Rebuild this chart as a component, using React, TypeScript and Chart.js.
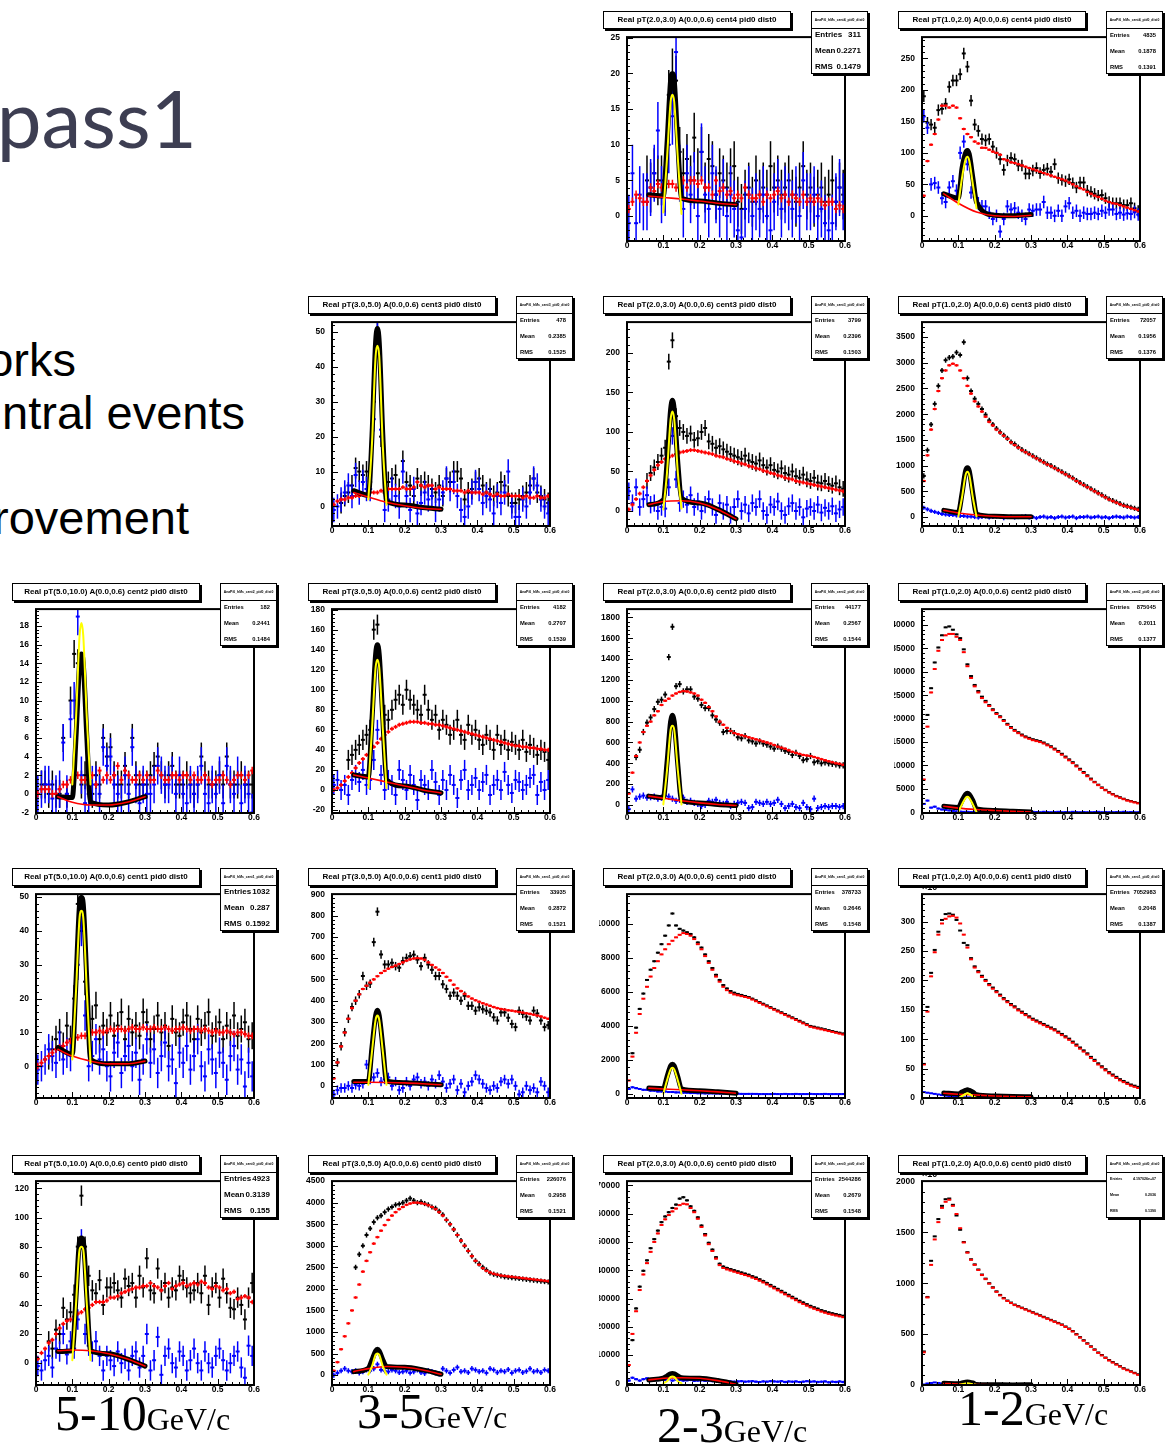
import React, { useEffect, useRef } from "react";
import { Chart, registerables } from "chart.js";

Chart.register(...registerables);

// ---------------- shared axis data ----------------
const X_BINS: number[] = Array.from({ length: 60 }, (_, i) => Math.round((0.005 + 0.01 * i) * 1000) / 1000);
const X_TICKS = [0, 0.1, 0.2, 0.3, 0.4, 0.5, 0.6];
const FIT_X_BG = [0.06, 0.1, 0.15, 0.2, 0.25, 0.3];
const FIT_X_TOT = [0.06, 0.1, 0.11, 0.12, 0.125, 0.13, 0.14, 0.15, 0.2, 0.25, 0.3];
const FIT_X_PEAK = [0.1, 0.11, 0.12, 0.125, 0.13, 0.14, 0.15];

// ---------------- P01: pT(2,3) cent4 ----------------
const P01_BLACK = [null,null,null,null,null,5,4,6,5,5,4,17,20,19,9,6,8,5,11,6,9,4,8,7,3,6,5,4,6,7,2,1,3,4,2,5,3,4,3,7,4,5,3,4,5,3,2,4,7,3,4,2,3,4,2,3,5,2,4,3];
const P01_BLUE = [-1,6,-1,3,2,2,4,6,12,3,4,10,14,23,6,1,6,3,5,0,9,3,1,6,3,1,4,0,3,1,-2,-3,1,3,0,2,1,3,0,-2,2,4,1,3,2,1,3,0,5,2,2,3,0,1,-1,-2,-1,2,4,2];
const P01_RED = [1,2,3,2.5,2,2,4,3.5,4.5,4,5,4.5,4.5,4,5.5,5,4,5,5,4.5,5,4,4,3,5,3.5,4,3,3.5,2.5,3,2.5,4,3,2.5,2.5,3,2,3,2.5,3,3.5,2.5,3,2,3,2.5,2,3,2,2.5,2,2.5,2,1.5,2,2,1,1.5,1];
const P01_BG = [2.8,2.6,2.4,2.1,1.8,1.6];
const P01_TOT = [3,2.8,10,19,20,19,10,2.5,2.1,1.8,1.6];
const P01_PEAK = [0.5,8,16,17,16,8,0.3];
const P01_YTICKS = [0,5,10,15,20,25];

// ---------------- P02: pT(1,2) cent4 ----------------
const P02_BLACK = [190,148,145,140,168,170,178,205,215,215,225,258,237,183,145,135,122,120,122,110,100,90,73,88,92,90,80,80,67,67,72,76,68,73,75,70,82,60,57,55,58,52,45,53,53,40,38,35,32,33,28,22,20,20,20,17,17,20,12,8];
const P02_BLUE = [158,140,50,52,45,28,22,45,55,40,100,118,82,37,30,20,15,15,5,-5,0,-25,-5,15,10,12,5,0,-5,10,8,10,10,22,5,5,0,8,0,15,20,5,8,0,5,3,3,5,3,8,5,10,10,3,5,2,4,3,6,2];
const P02_RED = [32,87,113,130,153,175,175,172,175,172,155,138,130,125,118,115,108,108,105,102,100,97,90,88,85,84,82,80,78,76,74,72,70,68,66,64,62,60,58,56,53,50,47,44,42,38,35,32,30,27,24,22,20,19,17,15,13,11,9,7];
const P02_BG = [35,20,6,0,-1,1];
const P02_TOT = [35,28,75,100,104,98,60,22,1,0,2];
const P02_PEAK = [18,60,90,94,88,50,12];
const P02_YTICKS = [0,50,100,150,200,250];

// ---------------- P03: pT(3,5) cent3 ----------------
const P03_BLACK = [null,null,1,3,4,6,11,10,9,10,7,30,50,20,4,7,8,9,5,13,7,6,3,8,6,7,6,5,4,6,3,8,7,10,10,8,2,4,5,7,8,6,4,5,3,4,7,6,3,1,1,2,3,4,6,8,4,3,2,1];
const P03_BLUE = [-1,0,2,4,6,3,9,4,7,5,5,25,50,22,-1,2,5,3,0,10,3,-1,5,-2,1,4,2,3,-1,2,4,8,5,7,3,-1,-3,0,4,7,5,1,3,2,-2,3,1,4,10,0,-3,-3,2,0,4,8,6,2,0,-2];
const P03_RED = [0.5,1.5,2,2,2.5,2.5,3,3,3.5,3.5,4,4,4,4.5,4,5,5,5,5,5.5,5,5,5.5,7,6,5.5,6,6,5,5.5,5,5,5,4.5,4.5,4.5,4,4.5,4,4,4,3.5,4,3.5,3,3.5,3,3,3.5,3,3,3,2.5,3,2.5,2.5,3,2.5,2.5,3];
const P03_BG = [4,2.7,1.2,0.2,-0.5,-0.8];
const P03_TOT = [4.5,3.2,20,47,51,47,20,1.5,0.4,-0.3,-0.8];
const P03_PEAK = [2,18,43,46,43,17,0.5];
const P03_YTICKS = [0,10,20,30,40,50];

// ---------------- P04: pT(2,3) cent3 ----------------
const P04_BLACK = [null,null,null,null,null,38,48,55,62,70,80,189,216,120,105,100,95,98,90,92,100,105,88,85,80,82,78,75,72,70,68,66,70,64,62,60,64,58,55,58,52,50,54,48,46,50,44,42,46,40,38,42,36,35,38,34,32,35,30,28];
const P04_BLUE = [25,10,30,5,15,20,8,10,0,5,3,30,95,40,10,15,8,20,5,12,0,8,15,5,-5,10,0,8,-5,5,15,0,8,-3,10,5,15,0,-5,8,5,12,0,-5,6,10,0,5,-8,3,5,0,8,-2,4,0,6,-3,2,5];
const P04_RED = [2,8,15,22,30,38,45,52,58,62,66,68,70,72,74,75,76,77,77,76,75,74,73,72,70,69,68,66,65,63,62,60,59,57,56,54,53,51,50,48,47,45,44,42,41,40,38,37,36,35,34,33,32,31,30,29,28,27,26,25];
const P04_BG = [8,12,13,10,2,-10];
const P04_TOT = [8,14,60,128,140,128,60,16,10,2,-10];
const P04_PEAK = [2,48,116,126,116,48,3];
const P04_YTICKS = [0,50,100,150,200];

// ---------------- P05: pT(1,2) cent3 ----------------
const P05_BLACK = [800,1300,1800,2200,2550,2850,3050,3100,3120,3200,3150,3400,2700,2450,2300,2200,2100,1990,1880,1800,1720,1650,1590,1530,1460,1420,1360,1310,1270,1230,1190,1150,1110,1070,1030,1000,960,920,880,840,800,760,710,670,630,590,550,510,470,430,390,350,320,290,260,230,210,190,170,150];
const P05_BLUE = [180,150,120,100,80,60,50,40,40,30,20,20,10,10,0,-10,0,10,-10,0,10,0,-20,0,10,-10,0,10,20,-10,0,-20,0,10,-10,0,-20,0,10,-10,0,10,-20,0,0,10,-10,0,10,-10,0,-20,0,10,0,-10,10,0,-10,0];
const P05_RED = [700,1200,1700,2100,2450,2700,2850,2950,2980,2950,2850,2700,2550,2400,2250,2150,2050,1950,1850,1780,1700,1640,1580,1520,1450,1400,1350,1300,1260,1220,1180,1140,1100,1060,1020,990,950,910,870,830,790,750,700,660,620,580,540,500,460,420,380,340,310,280,250,220,200,180,160,140];
const P05_BG = [130,80,40,15,5,5];
const P05_TOT = [130,90,450,900,960,900,450,60,15,5,5];
const P05_PEAK = [10,380,820,880,820,380,10];
const P05_YTICKS = [0,500,1000,1500,2000,2500,3000,3500];

// ---------------- P06: pT(5,10) cent2 ----------------
const P06_BLACK = [null,1,1,0,1,0,0,6,0,10,15,14,1,2,1,0,2,1,6,4,5,2,1,1,3,1,6,2,1,1,1,2,3,4,2,1,2,3,1,1,1,2,1,0,1,4,2,1,1,1,2,1,4,1,1,1,2,1,1,1];
const P06_BLUE = [0,0.5,1,1,-0.5,0,0.5,5.5,0,8,10,19,2,-1,0,1,1,0,5,3,4,1,0,-1,2,0,5,1,-1,1,0,0,1,3,2,1,1,2,0,2,0,-1,1,0,1,3,0,-1,1,0,2,-1,3,1,0,2,-1,1,0,-2];
const P06_RED = [0,0.5,0.5,0.5,0,0,0.5,1,1,1.5,1.5,2,1.5,1.5,1,2,1,2.5,1.5,2,1.5,2,3,1.5,2.5,2,1.5,1.5,2,1.5,2,1.5,1.5,2.5,2,1.5,1.5,2,2,1.5,2,2,1.5,2,1.5,1.5,2,1.5,1,1.5,1.5,2,1.5,1,1.5,2,2,1.5,2,2.5];
const P06_BG = [-0.3,-0.9,-1.2,-1.2,-0.9,-0.3];
const P06_TOT = [-0.3,-0.4,6,14,15,14,6,-0.9,-1.2,-0.9,-0.3];
const P06_PEAK = [1,8,17,18.3,17,8,1];
const P06_YTICKS = [-2,0,2,4,6,8,10,12,14,16,18];

// ---------------- P07: pT(3,5) cent2 ----------------
const P07_BLACK = [null,null,null,null,30,35,40,45,50,55,60,160,165,110,75,70,80,90,95,85,100,90,85,80,75,95,80,70,75,60,70,65,55,60,70,55,50,65,55,60,50,45,55,50,40,55,45,50,40,48,45,40,50,38,45,42,35,40,38,30];
const P07_BLUE = [5,10,0,5,-5,10,15,8,20,5,10,30,60,15,0,10,5,-5,20,10,0,15,5,-10,10,5,0,20,8,-5,10,0,15,5,-8,10,20,0,5,12,0,8,15,-5,5,10,0,18,5,-3,10,8,0,5,12,15,-5,8,0,10];
const P07_RED = [0,2,5,9,13,17,22,27,31,35,39,43,47,51,55,58,61,63,65,66,67,68,68,68,67,67,66,66,65,65,64,63,62,61,60,59,58,57,56,55,54,53,52,51,50,49,48,47,46,45,44,44,43,43,42,42,41,41,40,40];
const P07_BG = [15,12,8,4,0,-3];
const P07_TOT = [15,13,70,135,145,135,70,10,4,0,-3];
const P07_PEAK = [2,60,122,130,122,60,2];
const P07_YTICKS = [-20,0,20,40,60,80,100,120,140,160,180];

// ---------------- P08: pT(2,3) cent2 ----------------
const P08_BLACK = [null,null,460,530,700,790,840,920,990,1010,1060,1420,1710,1140,1160,1090,1110,1110,1040,1020,960,930,930,860,820,790,700,710,710,690,650,640,660,620,610,590,610,590,580,560,540,560,540,520,510,480,500,470,430,440,470,410,420,400,410,400,395,390,380,380];
const P08_BLUE = [-40,150,60,80,90,70,75,80,60,70,90,80,60,40,50,70,30,40,20,10,-10,0,40,30,50,20,10,30,-10,10,20,30,20,-30,-20,30,20,10,30,10,20,50,10,-30,-10,10,-20,-30,20,-20,-40,60,-30,-20,-10,-20,-10,-10,-20,-10];
const P08_RED = [110,310,470,600,700,760,800,860,900,960,1000,1020,1050,1070,1085,1093,1090,1080,1070,1050,1010,980,940,900,850,800,770,740,710,690,680,670,660,650,640,630,620,610,600,590,575,560,550,540,525,510,500,490,480,475,470,460,450,440,430,420,410,400,395,385];
const P08_BG = [85,65,40,20,5,-5];
const P08_TOT = [85,70,400,800,860,800,380,45,20,5,-5];
const P08_PEAK = [5,330,720,760,720,330,5];
const P08_YTICKS = [0,200,400,600,800,1000,1200,1400,1600,1800];

// ---------------- P09: pT(1,2) cent2 ----------------
const P09_BLACK = [null,20800,26500,32000,35200,37800,39500,39700,39000,38000,37200,34800,31600,29100,27200,25900,24700,23800,22900,22000,21200,20500,19700,18900,18200,17600,17100,16600,16200,15900,15600,15400,15200,14900,14500,14100,13600,13100,12500,11900,11300,10700,10000,9300,8600,7900,7200,6500,5900,5300,4800,4300,3900,3500,3200,2900,2600,2400,2200,2000];
const P09_BLUE = [1800,2500,1000,1200,800,600,500,400,300,200,150,100,100,50,50,0,50,0,0,50,0,0,50,0,0,0,50,0,0,0,100,50,0,100,50,0,50,100,0,50,0,100,50,0,50,0,0,50,100,0,50,0,0,50,0,100,0,50,0,0];
const P09_RED = [7000,18300,25600,30600,34500,36800,37800,38100,38100,37500,36800,34200,31200,28700,26900,25600,24400,23500,22700,21800,21000,20300,19500,18700,18000,17400,16900,16400,16000,15700,15400,15200,15000,14700,14300,13900,13400,12900,12300,11700,11100,10500,9800,9100,8400,7700,7000,6400,5800,5200,4700,4200,3800,3400,3100,2800,2500,2300,2100,1900];
const P09_BG = [1300,900,600,400,200,50];
const P09_TOT = [1300,1000,2500,3800,4050,3800,2500,700,400,200,50];
const P09_PEAK = [50,1700,3100,3300,3100,1700,50];
const P09_YTICKS = [0,5000,10000,15000,20000,25000,30000,35000,40000];

// ---------------- P10: pT(5,10) cent1 ----------------
const P10_BLACK = [null,null,null,3,5,8,10,6,12,8,20,48,50,25,10,14,18,8,12,10,15,9,12,16,8,14,10,12,9,16,13,8,11,15,10,12,6,14,10,9,13,15,11,8,14,10,12,16,9,11,13,8,12,10,15,9,11,13,8,9];
const P10_BLUE = [-1,0,2,5,3,1,6,2,4,3,10,30,40,15,0,3,8,2,5,0,-3,4,7,-2,3,6,0,4,-4,2,8,1,5,-2,3,7,0,2,-5,4,1,6,-1,3,8,0,-3,5,2,-2,4,1,-4,3,6,-1,2,-6,1,-3];
const P10_RED = [0,1,2,3,4,5,5.5,6,7,7.5,8,8.5,9,9,9.5,10,10,10.5,10,10.5,11,10.5,11,11,10.5,11,11.5,11,11,11.5,11,11,11.5,11,11,11.5,11,10.5,11,11,11.5,11,10.5,11,11,10.5,11,10.5,10,10.5,10,10,10.5,10,9.5,10,10,9.5,9,9];
const P10_BG = [5,3,1.5,0.7,0.7,1.5];
const P10_TOT = [5.5,3.5,25,48,50,48,25,2,0.7,0.7,1.5];
const P10_PEAK = [2,22,44,46,44,22,1];
const P10_YTICKS = [0,10,20,30,40,50];

// ---------------- P11: pT(3,5) cent1 ----------------
const P11_BLACK = [null,110,186,252,315,370,400,430,516,470,480,675,818,617,570,570,578,562,555,586,601,609,616,593,562,601,570,545,516,516,477,455,423,438,423,400,423,376,376,353,369,360,353,345,322,307,345,345,320,291,276,353,338,325,307,353,340,307,276,285];
const P11_BLUE = [-40,-20,-10,-10,0,-10,5,0,10,100,30,40,60,20,30,40,0,20,-20,-10,20,0,30,40,10,20,0,30,10,50,20,-10,10,30,-20,10,-30,0,20,50,30,10,-10,-20,0,-10,20,30,10,30,0,-40,-30,0,-20,-10,-30,20,0,-30];
const P11_RED = [35,110,185,250,315,365,400,430,455,470,485,500,515,530,540,550,558,565,572,580,588,594,598,600,598,592,580,568,556,545,530,512,495,475,458,445,432,420,410,402,395,388,382,376,370,365,361,358,355,353,350,347,344,341,338,334,330,326,320,315];
const P11_BG = [17,17,16,14,10,5];
const P11_TOT = [20,20,180,330,355,330,180,22,15,10,5];
const P11_PEAK = [5,160,310,330,310,160,5];
const P11_YTICKS = [0,100,200,300,400,500,600,700,800,900];

// ---------------- P12: pT(2,3) cent1 ----------------
const P12_BLACK = [null,2400,3900,5000,5900,6700,7300,7800,8300,8800,9300,9900,10600,9900,9700,9600,9500,9400,9200,8900,8600,8200,7800,7400,7000,6700,6400,6200,6050,5950,5880,5820,5760,5700,5600,5500,5400,5300,5200,5100,5000,4900,4800,4700,4600,4500,4400,4300,4200,4100,4000,3950,3900,3850,3800,3750,3700,3650,3600,3550];
const P12_BLUE = [300,400,350,300,250,250,200,200,150,150,150,120,120,100,100,80,80,60,60,50,50,40,40,40,30,30,30,20,20,20,20,10,10,10,10,10,0,0,0,0,10,0,0,10,0,0,10,0,0,0,10,0,0,0,10,0,0,0,0,0];
const P12_RED = [800,2200,3600,4700,5600,6300,6900,7400,7800,8200,8500,8800,9000,9200,9350,9450,9400,9300,9100,8800,8500,8100,7700,7300,6900,6600,6300,6100,5950,5850,5800,5750,5700,5650,5550,5450,5350,5250,5150,5050,4950,4850,4750,4650,4550,4450,4350,4250,4150,4050,3950,3900,3850,3800,3750,3700,3650,3600,3550,3500];
const P12_BG = [350,300,250,200,130,50];
const P12_TOT = [350,320,1000,1650,1750,1650,1000,300,200,130,50];
const P12_PEAK = [20,800,1450,1550,1450,800,20];
const P12_YTICKS = [0,2000,4000,6000,8000,10000];

// ---------------- P13: pT(1,2) cent1 (x10^3) ----------------
const P13_BLACK = [58,155,213,252,283,303,313,314,312,303,285,264,260,238,224,216,208,201,194,188,182,176,170,165,160,156,151,147,143,139,135,132,129,126,123,120,117,113,109,105,101,96,91,86,81,76,70,65,59,54,49,44,40,36,32,29,26,23,21,19];
const P13_BLUE = [10,9,8,7,6,5,4,3,3,2,2,1,1,1,1,1,0,0,0,0,0,0,0,0,0,0,0,0,0,0,0,0,0,0,0,0,0,0,0,0,0,0,0,0,0,0,0,0,0,0,0,0,0,0,0,0,0,0,0,0];
const P13_RED = [57,147,207,248,278,297,305,309,310,307,297,278,256,236,222,214,206,199,192,186,180,174,168,163,158,154,149,145,141,137,133,130,127,124,121,118,115,111,107,103,99,94,89,84,79,74,68,63,57,52,47,42,38,34,30,27,24,21,19,17];
const P13_BG = [8,6.5,5,3.5,2.5,2];
const P13_TOT = [8.5,7,10,13,14,13,10,5.5,3.5,2.5,2];
const P13_PEAK = [0,3,7,8,7,3,0];
const P13_YTICKS = [0,50,100,150,200,250,300];

// ---------------- P14: pT(5,10) cent0 ----------------
const P14_BLACK = [null,null,null,15,10,23,20,38,30,35,47,80,115,80,60,50,48,57,40,52,52,55,50,45,58,53,55,45,60,52,72,50,48,65,50,55,45,52,50,60,57,52,48,50,55,48,60,40,52,55,45,58,48,38,37,45,40,30,45,55];
const P14_BLUE = [-2,-5,2,5,-3,10,8,20,6,15,10,30,85,20,12,8,15,5,-5,5,2,-2,8,0,3,-5,5,8,-3,5,20,-5,2,18,-8,5,10,0,-3,8,5,-5,2,10,0,-5,8,0,-3,5,10,2,-5,0,5,8,-3,-10,12,5];
const P14_RED = [3,7,10,14,16,20,24,27,29,30,32,34,35,37,38,40,42,42,42,43,45,45,46,48,49,50,51,52,52,53,53,55,53,52,50,53,55,51,53,54,55,53,54,55,54,56,55,52,51,53,52,50,51,48,49,44,45,46,45,42];
const P14_BG = [8.5,9,8.5,6.5,3,-2];
const P14_TOT = [8,8.5,45,84,86,84,45,8.5,6.5,3,-2];
const P14_PEAK = [2,40,78,80,78,40,2];
const P14_YTICKS = [0,20,40,60,80,100,120];

// ---------------- P15: pT(3,5) cent0 ----------------
const P15_BLACK = [null,null,null,null,null,null,2500,2800,3000,3250,3400,3550,3650,3700,3780,3850,3900,3950,3970,4000,4050,4100,4050,4000,4020,3980,3950,3900,3870,3800,3720,3600,3500,3380,3250,3120,3000,2880,2760,2650,2580,2500,2440,2370,2340,2320,2300,2280,2270,2260,2250,2240,2230,2220,2210,2200,2190,2180,2170,2160];
const P15_BLUE = [0,50,100,150,100,80,100,50,80,120,100,150,250,120,100,80,120,100,60,80,100,50,80,120,60,40,100,80,50,30,150,100,50,120,180,80,100,60,150,120,80,100,50,150,120,60,100,80,130,50,100,120,60,90,150,80,100,60,120,100];
const P15_RED = [100,300,600,900,1200,1500,1800,2100,2400,2650,2850,3050,3200,3350,3480,3600,3700,3780,3850,3900,3950,3980,4000,4000,3990,3970,3940,3900,3850,3780,3700,3600,3500,3380,3250,3120,3000,2880,2760,2650,2560,2480,2420,2380,2350,2330,2310,2300,2290,2280,2270,2260,2250,2240,2230,2220,2210,2200,2190,2180];
const P15_BG = [80,150,200,180,120,20];
const P15_TOT = [80,160,350,560,600,560,350,200,180,120,20];
const P15_PEAK = [10,200,470,500,470,200,10];
const P15_YTICKS = [0,500,1000,1500,2000,2500,3000,3500,4000,4500];

// ---------------- P16: pT(2,3) cent0 ----------------
const P16_BLACK = [null,15300,26500,34200,39800,43500,47800,51000,54000,57000,59000,60500,62000,63200,65300,65800,64700,62600,61000,58700,55800,52800,49700,47300,44600,42300,41300,40800,40400,40000,39600,39200,38800,38400,37900,37400,36800,36200,35500,34800,34100,33400,32700,32000,31300,30600,29900,29200,28600,28000,27400,26900,26400,25900,25500,25100,24800,24500,24200,23900];
const P16_BLUE = [1000,2000,1500,1000,1500,1800,1500,1500,1200,1300,1200,1500,1000,1300,1200,1000,1100,1200,900,1000,1100,900,1000,800,900,700,800,600,700,600,700,800,600,700,800,600,500,700,600,800,700,600,800,500,700,600,700,500,600,800,600,700,500,600,700,400,600,500,700,500];
const P16_RED = [6500,17500,25500,33000,38500,42500,46500,50000,53000,56000,58000,59500,60800,61800,63000,63500,63300,62000,60500,58200,55300,52300,49200,46800,44100,41800,40800,40300,39900,39500,39100,38700,38300,37900,37400,36900,36300,35700,35000,34300,33600,32900,32200,31500,30800,30100,29400,28700,28100,27500,26900,26400,25900,25400,25000,24600,24300,24000,23700,23400];
const P16_BG = [1200,1800,2000,1800,1000,-300];
const P16_TOT = [1200,1900,2600,3400,3500,3400,2600,2000,1800,1000,-300];
const P16_PEAK = [50,800,2200,2400,2200,800,50];
const P16_YTICKS = [0,10000,20000,30000,40000,50000,60000,70000];

// ---------------- P17: pT(1,2) cent0 (x10^3) ----------------
const P17_BLACK = [330,865,1220,1460,1630,1760,1825,1832,1770,1665,1525,1405,1305,1235,1185,1135,1085,1045,1000,960,920,885,855,830,810,790,775,760,745,730,715,700,685,670,655,640,625,610,595,575,555,530,500,470,440,410,380,350,320,295,270,245,225,205,185,165,150,135,120,105];
const P17_BLUE = [5,15,20,25,20,15,15,10,10,5,5,5,3,3,3,2,2,2,1,1,0,0,0,0,0,0,0,0,0,0,0,0,0,0,0,0,0,0,0,0,0,0,0,0,0,0,0,0,0,0,0,0,0,0,0,0,0,0,0,0];
const P17_RED = [321,860,1180,1430,1600,1740,1800,1820,1760,1680,1540,1400,1300,1230,1180,1130,1080,1040,995,955,915,880,850,825,805,785,770,755,740,725,710,695,680,665,650,635,620,605,590,570,550,525,495,465,435,405,375,345,315,290,265,240,220,200,180,160,145,130,115,100];
const P17_BG = [15,10,5,2,1,2];
const P17_TOT = [16,12,20,28,30,28,20,6,2,1,2];
const P17_PEAK = [0,8,16,18,16,8,0];
const P17_YTICKS = [0,500,1000,1500,2000];

// ---------------- layout ----------------
const COL_X = [36, 332, 627, 922];
const ROW_Y = [37, 322, 609, 894, 1181];
const FW = 218;
const FH = 204;
const YAXW = 28;
const PADT = 12;
const PADR = 14;
const XAXH = 13;
const CW = YAXW + FW + PADR;
const CH = PADT + FH + XAXH;

type Series = (number | null)[];
interface PanelSpec {
  col: number; row: number; title: string; cent: number;
  entries: string; mean: string; rms: string; statStyle: "big" | "small" | "tiny";
  yMin: number; yMax: number; yTicks: number[]; mult?: boolean;
  black: Series; blue: Series; red: Series;
  errB: number; errU: number; errR: number;
  bg: number[]; tot: number[]; peak: number[];
}

const PANELS: PanelSpec[] = [
  { col: 2, row: 0, title: "Real pT(2.0,3.0) A(0.0,0.6) cent4 pid0 dist0", cent: 4, entries: "311", mean: "0.2271", rms: "0.1479", statStyle: "big", yMin: -3.5, yMax: 25.1, yTicks: P01_YTICKS, black: P01_BLACK, blue: P01_BLUE, red: P01_RED, errB: 3.5, errU: 4, errR: 0.6, bg: P01_BG, tot: P01_TOT, peak: P01_PEAK },
  { col: 3, row: 0, title: "Real pT(1.0,2.0) A(0.0,0.6) cent4 pid0 dist0", cent: 4, entries: "4835", mean: "0.1878", rms: "0.1391", statStyle: "small", yMin: -40, yMax: 284, yTicks: P02_YTICKS, black: P02_BLACK, blue: P02_BLUE, red: P02_RED, errB: 9, errU: 10, errR: 2, bg: P02_BG, tot: P02_TOT, peak: P02_PEAK },
  { col: 1, row: 1, title: "Real pT(3.0,5.0) A(0.0,0.6) cent3 pid0 dist0", cent: 3, entries: "478", mean: "0.2385", rms: "0.1525", statStyle: "small", yMin: -5.6, yMax: 52.8, yTicks: P03_YTICKS, black: P03_BLACK, blue: P03_BLUE, red: P03_RED, errB: 3, errU: 3.5, errR: 0.6, bg: P03_BG, tot: P03_TOT, peak: P03_PEAK },
  { col: 2, row: 1, title: "Real pT(2.0,3.0) A(0.0,0.6) cent3 pid0 dist0", cent: 3, entries: "3799", mean: "0.2396", rms: "0.1503", statStyle: "small", yMin: -19, yMax: 239, yTicks: P04_YTICKS, black: P04_BLACK, blue: P04_BLUE, red: P04_RED, errB: 10, errU: 11, errR: 2.5, bg: P04_BG, tot: P04_TOT, peak: P04_PEAK },
  { col: 3, row: 1, title: "Real pT(1.0,2.0) A(0.0,0.6) cent3 pid0 dist0", cent: 3, entries: "72057", mean: "0.1956", rms: "0.1376", statStyle: "small", yMin: -174, yMax: 3790, yTicks: P05_YTICKS, black: P05_BLACK, blue: P05_BLUE, red: P05_RED, errB: 50, errU: 40, errR: 25, bg: P05_BG, tot: P05_TOT, peak: P05_PEAK },
  { col: 0, row: 2, title: "Real pT(5.0,10.0) A(0.0,0.6) cent2 pid0 dist0", cent: 2, entries: "182", mean: "0.2441", rms: "0.1484", statStyle: "small", yMin: -2.05, yMax: 19.8, yTicks: P06_YTICKS, black: P06_BLACK, blue: P06_BLUE, red: P06_RED, errB: 1.5, errU: 2, errR: 0.4, bg: P06_BG, tot: P06_TOT, peak: P06_PEAK },
  { col: 1, row: 2, title: "Real pT(3.0,5.0) A(0.0,0.6) cent2 pid0 dist0", cent: 2, entries: "4182", mean: "0.2707", rms: "0.1539", statStyle: "small", yMin: -23, yMax: 180.5, yTicks: P07_YTICKS, black: P07_BLACK, blue: P07_BLUE, red: P07_RED, errB: 10, errU: 10, errR: 2, bg: P07_BG, tot: P07_TOT, peak: P07_PEAK },
  { col: 2, row: 2, title: "Real pT(2.0,3.0) A(0.0,0.6) cent2 pid0 dist0", cent: 2, entries: "44177", mean: "0.2567", rms: "0.1544", statStyle: "small", yMin: -77, yMax: 1880, yTicks: P08_YTICKS, black: P08_BLACK, blue: P08_BLUE, red: P08_RED, errB: 30, errU: 30, errR: 12, bg: P08_BG, tot: P08_TOT, peak: P08_PEAK },
  { col: 3, row: 2, title: "Real pT(1.0,2.0) A(0.0,0.6) cent2 pid0 dist0", cent: 2, entries: "875045", mean: "0.2011", rms: "0.1377", statStyle: "small", yMin: -150, yMax: 43400, yTicks: P09_YTICKS, black: P09_BLACK, blue: P09_BLUE, red: P09_RED, errB: 150, errU: 200, errR: 150, bg: P09_BG, tot: P09_TOT, peak: P09_PEAK },
  { col: 0, row: 3, title: "Real pT(5.0,10.0) A(0.0,0.6) cent1 pid0 dist0", cent: 1, entries: "1032", mean: "0.287", rms: "0.1592", statStyle: "big", yMin: -9.4, yMax: 50.9, yTicks: P10_YTICKS, black: P10_BLACK, blue: P10_BLUE, red: P10_RED, errB: 4, errU: 4.5, errR: 1, bg: P10_BG, tot: P10_TOT, peak: P10_PEAK },
  { col: 1, row: 3, title: "Real pT(3.0,5.0) A(0.0,0.6) cent1 pid0 dist0", cent: 1, entries: "33935", mean: "0.2872", rms: "0.1521", statStyle: "small", yMin: -57, yMax: 900.5, yTicks: P11_YTICKS, black: P11_BLACK, blue: P11_BLUE, red: P11_RED, errB: 20, errU: 22, errR: 6, bg: P11_BG, tot: P11_TOT, peak: P11_PEAK },
  { col: 2, row: 3, title: "Real pT(2.0,3.0) A(0.0,0.6) cent1 pid0 dist0", cent: 1, entries: "378733", mean: "0.2646", rms: "0.1548", statStyle: "small", yMin: -230, yMax: 11740, yTicks: P12_YTICKS, black: P12_BLACK, blue: P12_BLUE, red: P12_RED, errB: 60, errU: 60, errR: 40, bg: P12_BG, tot: P12_TOT, peak: P12_PEAK },
  { col: 3, row: 3, title: "Real pT(1.0,2.0) A(0.0,0.6) cent1 pid0 dist0", cent: 1, entries: "7052983", mean: "0.2048", rms: "0.1387", statStyle: "small", yMin: 0, yMax: 347, yTicks: P13_YTICKS, mult: true, black: P13_BLACK, blue: P13_BLUE, red: P13_RED, errB: 1, errU: 1, errR: 1, bg: P13_BG, tot: P13_TOT, peak: P13_PEAK },
  { col: 0, row: 4, title: "Real pT(5.0,10.0) A(0.0,0.6) cent0 pid0 dist0", cent: 0, entries: "4923", mean: "0.3139", rms: "0.155", statStyle: "big", yMin: -15, yMax: 125, yTicks: P14_YTICKS, black: P14_BLACK, blue: P14_BLUE, red: P14_RED, errB: 7, errU: 7, errR: 1.5, bg: P14_BG, tot: P14_TOT, peak: P14_PEAK },
  { col: 1, row: 4, title: "Real pT(3.0,5.0) A(0.0,0.6) cent0 pid0 dist0", cent: 0, entries: "226076", mean: "0.2958", rms: "0.1521", statStyle: "small", yMin: -230, yMax: 4500.5, yTicks: P15_YTICKS, black: P15_BLACK, blue: P15_BLUE, red: P15_RED, errB: 60, errU: 60, errR: 30, bg: P15_BG, tot: P15_TOT, peak: P15_PEAK },
  { col: 2, row: 4, title: "Real pT(2.0,3.0) A(0.0,0.6) cent0 pid0 dist0", cent: 0, entries: "2544286", mean: "0.2679", rms: "0.1548", statStyle: "small", yMin: -560, yMax: 71500, yTicks: P16_YTICKS, black: P16_BLACK, blue: P16_BLUE, red: P16_RED, errB: 400, errU: 400, errR: 300, bg: P16_BG, tot: P16_TOT, peak: P16_PEAK },
  { col: 3, row: 4, title: "Real pT(1.0,2.0) A(0.0,0.6) cent0 pid0 dist0", cent: 0, entries: "4.197026e+07", mean: "0.2036", rms: "0.1390", statStyle: "tiny", yMin: 0, yMax: 2003, yTicks: P17_YTICKS, mult: true, black: P17_BLACK, blue: P17_BLUE, red: P17_RED, errB: 5, errU: 5, errR: 4, bg: P17_BG, tot: P17_TOT, peak: P17_PEAK },
];

// ---------------- plugins ----------------
const errorBarPlugin = {
  id: "errbars",
  afterDatasetDraw(chart: any, args: any) {
    const ds = chart.data.datasets[args.index];
    if (!ds.errColor) return;
    const { ctx, chartArea: a } = chart;
    const ys = chart.scales.y;
    ctx.save();
    ctx.beginPath();
    ctx.rect(a.left, a.top, a.right - a.left, a.bottom - a.top);
    ctx.clip();
    ctx.strokeStyle = ds.errColor;
    ctx.lineWidth = 1.5;
    args.meta.data.forEach((el: any, i: number) => {
      const raw = ds.data[i];
      const y1 = ys.getPixelForValue(raw.y - raw.e);
      const y2 = ys.getPixelForValue(raw.y + raw.e);
      ctx.beginPath();
      ctx.moveTo(el.x, y1);
      ctx.lineTo(el.x, y2);
      ctx.stroke();
    });
    ctx.restore();
  },
};

const framePlugin = {
  id: "rootframe",
  afterDatasetsDraw(chart: any) {
    const { ctx, chartArea: a } = chart;
    const xs = chart.scales.x;
    const ys = chart.scales.y;
    ctx.save();
    ctx.strokeStyle = "#000";
    ctx.lineWidth = 1;
    const xt = xs.ticks.map((t: any) => t.value);
    const xStep = (xt[1] - xt[0]) / 5;
    for (let v = xt[0]; v <= xs.max + 1e-9; v += xStep) {
      const px = Math.round(xs.getPixelForValue(v)) + 0.5;
      const major = Math.abs(v / (xt[1] - xt[0]) - Math.round(v / (xt[1] - xt[0]))) < 1e-6;
      ctx.beginPath();
      ctx.moveTo(px, a.bottom);
      ctx.lineTo(px, a.bottom - (major ? 6 : 3));
      ctx.stroke();
    }
    const yt = ys.ticks.map((t: any) => t.value);
    const yMajor = yt[1] - yt[0];
    const yStep = yMajor / 5;
    const start = Math.ceil(ys.min / yStep) * yStep;
    for (let v = start; v <= ys.max + 1e-9; v += yStep) {
      const py = Math.round(ys.getPixelForValue(v)) + 0.5;
      const major = Math.abs(v / yMajor - Math.round(v / yMajor)) < 1e-6;
      ctx.beginPath();
      ctx.moveTo(a.left, py);
      ctx.lineTo(a.left + (major ? 6 : 3), py);
      ctx.stroke();
    }
    ctx.lineWidth = 2;
    ctx.strokeRect(a.left, a.top, a.right - a.left, a.bottom - a.top);
    ctx.restore();
  },
};

const TICK_FONT = { family: "'Liberation Sans', Arial, sans-serif", size: 8.5, weight: "bold" as const };

function makeConfig(p: PanelSpec): any {
  const pts = (arr: Series, err: number) =>
    arr.map((v, i) => (v === null ? null : { x: X_BINS[i], y: v, e: err })).filter((d) => d !== null);
  const curve = (xs: number[], yv: number[]) => xs.map((x, i) => ({ x, y: yv[i] }));
  const pointDs = (label: string, data: any[], color: string, order: number) => ({
    type: "scatter", label, data, order, pointStyle: "line", pointRadius: 2, pointHoverRadius: 2,
    borderColor: color, backgroundColor: color, borderWidth: 2, showLine: false, errColor: color,
  });
  const lineDs = (label: string, data: any[], color: string, width: number, order: number) => ({
    type: "line", label, data, order, borderColor: color, backgroundColor: color, borderWidth: width,
    pointRadius: 0, fill: false, cubicInterpolationMode: "monotone", borderJoinStyle: "round", borderCapStyle: "round",
  });
  return {
    type: "scatter",
    data: {
      datasets: [
        pointDs("black", pts(p.black, p.errB), "#000000", 6),
        pointDs("blue", pts(p.blue, p.errU), "#0000ff", 5),
        pointDs("red", pts(p.red, p.errR), "#ff0000", 4),
        lineDs("total fit", curve(FIT_X_TOT, p.tot), "#000000", 5, 3),
        lineDs("background", curve(FIT_X_BG, p.bg), "#ff0000", 1.6, 2),
        lineDs("signal", curve(FIT_X_PEAK, p.peak), "#ffff00", 2, 1),
      ],
    },
    options: {
      responsive: false,
      animation: false,
      devicePixelRatio: 1,
      events: [],
      layout: { padding: { top: PADT, right: PADR, left: 0, bottom: 0 } },
      plugins: { legend: { display: false }, tooltip: { enabled: false }, title: { display: false } },
      scales: {
        x: {
          type: "linear", min: 0, max: 0.6, bounds: "data",
          grid: { display: false, drawTicks: false }, border: { display: false },
          ticks: {
            font: TICK_FONT, color: "#000", padding: 0, maxRotation: 0, autoSkip: false,
            callback: (v: number) => (Math.abs(v) < 1e-9 ? "0" : String(Math.round(v * 10) / 10)),
          },
          afterBuildTicks: (ax: any) => { ax.ticks = X_TICKS.map((v) => ({ value: v })); },
          afterFit: (ax: any) => { ax.height = XAXH; },
        },
        y: {
          type: "linear", min: p.yMin, max: p.yMax, bounds: "data",
          grid: { display: false, drawTicks: false }, border: { display: false },
          ticks: { font: TICK_FONT, color: "#000", padding: 7, autoSkip: false, callback: (v: number) => String(v) },
          afterBuildTicks: (ax: any) => { ax.ticks = p.yTicks.map((v) => ({ value: v })); },
          afterFit: (ax: any) => { ax.width = YAXW; },
        },
      },
    },
    plugins: [errorBarPlugin, framePlugin],
  };
}

function Panel({ p }: { p: PanelSpec }) {
  const ref = useRef<HTMLCanvasElement | null>(null);
  useEffect(() => {
    if (!ref.current) return;
    const chart = new Chart(ref.current, makeConfig(p));
    return () => chart.destroy();
  }, [p]);
  const fx = COL_X[p.col];
  const fy = ROW_Y[p.row];
  const boxFont = "'Liberation Sans', Arial, sans-serif";
  const rowFont = p.statStyle === "big" ? 8 : p.statStyle === "small" ? 5.8 : 3.6;
  const rowStyle = (center: number): React.CSSProperties => ({
    position: "absolute", left: 3, right: 6, top: center - 6, height: 12, lineHeight: "12px",
    display: "flex", justifyContent: "space-between", fontSize: rowFont, fontWeight: "bold",
    whiteSpace: "nowrap",
  });
  return (
    <>
      <canvas
        ref={ref}
        width={CW}
        height={CH}
        style={{ position: "absolute", left: fx - YAXW, top: fy - PADT, width: CW, height: CH }}
      />
      {p.mult ? (
        <div style={{ position: "absolute", left: fx, top: fy - 12, fontFamily: boxFont, fontSize: 9, fontWeight: "bold", lineHeight: "10px" }}>
          ×10
        </div>
      ) : null}
      <div
        style={{
          position: "absolute", left: fx - 24, top: fy - 26, width: 186, height: 16, background: "#fff",
          border: "1px solid #000", boxShadow: "2px 2px 0 #000", fontFamily: boxFont, fontSize: 8,
          fontWeight: "bold", lineHeight: "16px", textAlign: "center", whiteSpace: "nowrap",
        }}
      >
        {p.title}
      </div>
      <div
        style={{
          position: "absolute", left: fx + FW - 34, top: fy - 26, width: 55, height: 61, background: "#fff",
          border: "1px solid #000", boxShadow: "2px 2px 0 #000", fontFamily: boxFont, overflow: "hidden",
        }}
      >
        <div style={{ position: "absolute", left: 0, right: 0, top: 0, height: 16, borderBottom: "1px solid #000", fontSize: 3.4, lineHeight: "16px", textAlign: "center", whiteSpace: "nowrap", fontWeight: "bold" }}>
          {`AnaPi0_hMs_cent${p.cent}_pid0_dist0`}
        </div>
        <div style={rowStyle(23)}><span>Entries</span><span>{p.entries}</span></div>
        <div style={rowStyle(39)}><span>Mean</span><span>{p.mean}</span></div>
        <div style={rowStyle(55)}><span>RMS</span><span>{p.rms}</span></div>
      </div>
    </>
  );
}

const BOTTOM_LABELS = [
  { big: "5-10", left: 55, baseline: 1430 },
  { big: "3-5", left: 357, baseline: 1428 },
  { big: "2-3", left: 657, baseline: 1442 },
  { big: "1-2", left: 958, baseline: 1425 },
];

export default function App() {
  const sans = "'Liberation Sans', Arial, sans-serif";
  return (
    <div style={{ position: "absolute", left: 0, top: 0, width: 1165, height: 1447, overflow: "hidden", background: "#fff" }}>
      <div style={{ position: "absolute", right: 968, top: 77, fontFamily: "Lato, 'Open Sans', sans-serif", fontSize: 80, lineHeight: 1, color: "#3d3e52", whiteSpace: "nowrap" }}>
        pass1
      </div>
      <div style={{ position: "absolute", right: 1089, top: 336, fontFamily: sans, fontSize: 47, lineHeight: 1, color: "#000", whiteSpace: "nowrap" }}>orks</div>
      <div style={{ position: "absolute", right: 920, top: 389, fontFamily: sans, fontSize: 47, lineHeight: 1, color: "#000", whiteSpace: "nowrap" }}>ntral events</div>
      <div style={{ position: "absolute", right: 976, top: 494, fontFamily: sans, fontSize: 47, lineHeight: 1, color: "#000", whiteSpace: "nowrap" }}>rovement</div>
      {PANELS.map((p, i) => (
        <Panel key={i} p={p} />
      ))}
      {BOTTOM_LABELS.map((b, i) => (
        <div
          key={i}
          style={{ position: "absolute", left: b.left, top: b.baseline - 42, fontFamily: "'Liberation Serif', 'Times New Roman', serif", fontSize: 50, lineHeight: 1, color: "#000", whiteSpace: "nowrap" }}
        >
          {b.big}
          <span style={{ fontSize: 32 }}>GeV/c</span>
        </div>
      ))}
    </div>
  );
}
